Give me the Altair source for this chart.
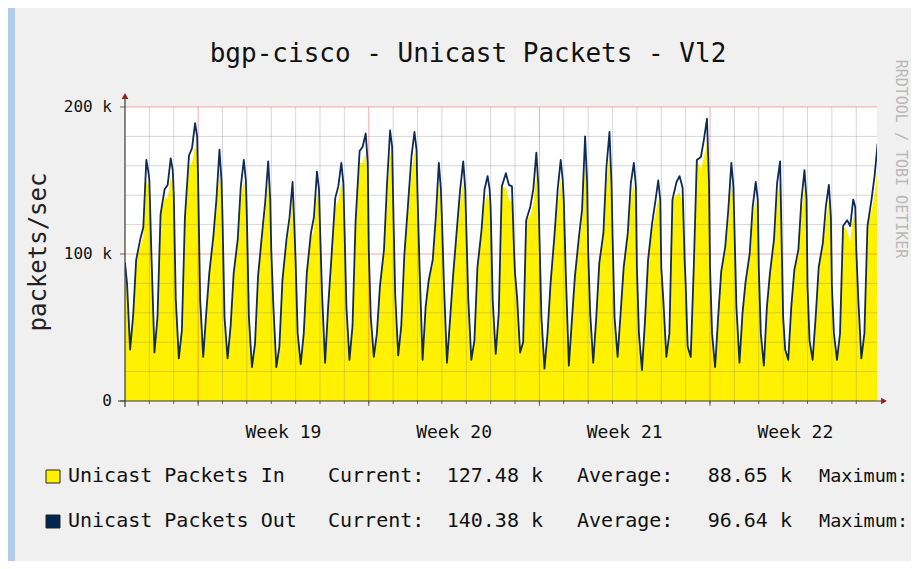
import altair as alt
import pandas as pd

# ---- data (values in k packets/sec) ----
hours = [0, 2, 5, 8, 11, 15, 18, 21, 23]
days = list(range(31))

out_h00 = [94, 150, 141, 150, 125, 125, 103, 95, 119, 121, 103, 137, 141, 125, 119, 132, 87, 114, 137, 103, 114, 91, 91, 80, 91, 119, 91, 57, 78, 78, 103]
out_h02 = [80, 100, 69, 69, 57, 57, 66, 46, 73, 64, 57, 73, 91, 80, 69, 69, 71, 57, 87, 60, 57, 46, 69, 37, 46, 64, 46, 35, 41, 46, 69]
out_h05 = [35, 33, 29, 30, 29, 23, 23, 25, 26, 28, 30, 31, 28, 26, 28, 32, 33, 22, 24, 26, 30, 21, 30, 30, 23, 26, 24, 28, 28, 28, 29]
out_h08 = [58, 57, 48, 60, 51, 39, 37, 46, 64, 51, 46, 51, 64, 55, 41, 60, 40, 46, 55, 57, 60, 55, 46, 91, 57, 60, 64, 64, 57, 46, 46]
out_h11 = [96, 127, 125, 87, 87, 85, 82, 87, 95, 122, 78, 99, 82, 85, 91, 146, 123, 80, 85, 94, 91, 96, 137, 164, 88, 81, 87, 89, 91, 119, 119]
out_h15 = [110, 144, 167, 112, 110, 114, 110, 114, 138, 170, 103, 137, 96, 119, 116, 155, 132, 114, 112, 114, 114, 121, 149, 166, 105, 100, 110, 103, 107, 123, 137]
out_h18 = [118, 147, 172, 137, 146, 135, 125, 125, 146, 173, 148, 166, 125, 144, 144, 147, 144, 144, 130, 159, 148, 135, 153, 178, 130, 132, 148, 137, 132, 119, 153]
out_h21 = [164, 165, 189, 171, 164, 163, 149, 156, 162, 182, 184, 183, 162, 163, 153, 146, 169, 164, 180, 183, 162, 150, 145, 192, 162, 149, 163, 157, 147, 137, 175]
out_h23 = [156, 157, 180, 150, 150, 137, 114, 144, 148, 162, 173, 171, 144, 144, 144, 103, 146, 150, 148, 148, 146, 137, 96, 148, 146, 137, 91, 137, 125, 132, None]

in_h15 = [105, 138, 160, 108, 106, 110, 106, 110, 132, 162, 99, 131, 92, 114, 111, 145, 126, 109, 107, 109, 109, 116, 140, 158, 101, 96, 105, 99, 103, 116, 130]
in_h18 = [112, 138, 162, 128, 136, 126, 117, 116, 136, 162, 137, 154, 116, 134, 134, 137, 134, 134, 121, 147, 137, 126, 142, 166, 121, 123, 137, 127, 123, 108, 140]
in_h21 = [150, 152, 174, 158, 151, 150, 138, 143, 149, 168, 170, 169, 149, 150, 141, 135, 155, 151, 166, 169, 149, 138, 134, 176, 149, 137, 150, 145, 136, 126, 160]
in_h23 = [146, 146, 168, 139, 139, 127, 105, 133, 137, 150, 160, 158, 133, 133, 133, 95, 135, 139, 137, 137, 135, 127, 89, 137, 135, 127, 84, 127, 116, 122, None]

out_slots = [out_h00, out_h02, out_h05, out_h08, out_h11, out_h15, out_h18, out_h21, out_h23]
in_slots = [out_h00, out_h02, out_h05, out_h08, out_h11, in_h15, in_h18, in_h21, in_h23]

day_lines = list(range(1, 31))
week_starts = [3, 10, 17, 24]
week_centers = [6.5, 13.5, 20.5, 27.5]
week_labels = ["Week 19", "Week 20", "Week 21", "Week 22"]
minor_y = [20, 40, 60, 80, 120, 140, 160, 180]
major_y = [100, 200]
ylab_vals = [0, 100, 200]
ylab_text = ["0", "100 k", "200 k"]
x_end = 30.85

title_text = "bgp-cisco - Unicast Packets - Vl2"
legend_rows = [
    ["Unicast Packets In", "Current:", "127.48 k", "Average:", "88.65 k", "Maximum:"],
    ["Unicast Packets Out", "Current:", "140.38 k", "Average:", "96.64 k", "Maximum:"],
]

rows = []
for d in days:
    for h, o, i in zip(hours, out_slots, in_slots):
        if o[d] is None:
            continue
        rows.append({"t": d + h / 24.0, "out": o[d], "inp": i[d]})
df = pd.DataFrame(rows)

W, H = 752, 294
YELLOW = "#FFF100"
NAVY = "#0d2b55"
MONO = "DejaVu Sans Mono"
GRID = "rgba(140,140,140,0.35)"
MGRID = "rgba(225,70,70,0.45)"
AXIS = "#3a3a30"
ARROW = "#9b1c1c"

xs = alt.Scale(domain=[0, x_end], nice=False, zero=False)
ys = alt.Scale(domain=[0, 200], nice=False)
one = pd.DataFrame({"a": [0]})


def rect(x1, x2, y1, y2, color, stroke=None):
    kw = {"color": color}
    if stroke:
        kw.update(stroke=stroke, strokeWidth=1)
    return alt.Chart(one).mark_rect(**kw).encode(
        x=alt.value(x1), x2=alt.value(x2), y=alt.value(y1), y2=alt.value(y2))


def txt(s, x, y, size, align="left", angle=0, color="#111", font=MONO):
    return alt.Chart(one).mark_text(
        text=s, align=align, baseline="middle", fontSize=size, font=font,
        color=color, angle=angle).encode(x=alt.value(x), y=alt.value(y))


layers = []
# left blue strip of the screenshot and white canvas
layers.append(rect(-117, -110, -99, 454, "#b3cbeb"))
layers.append(rect(0, W, 0, H, "#ffffff"))

# data
area = alt.Chart(df).mark_area(color=YELLOW, opacity=1, clip=True).encode(
    x=alt.X("t:Q", scale=xs, axis=None),
    y=alt.Y("inp:Q", scale=ys, axis=None))
layers.append(area)

# grid
vd = pd.DataFrame({"t": [d for d in day_lines if d not in week_starts]})
layers.append(alt.Chart(vd).mark_rule(color=GRID, strokeWidth=1).encode(
    x=alt.X("t:Q", scale=xs), y=alt.value(0), y2=alt.value(H)))
hd = pd.DataFrame({"v": minor_y})
layers.append(alt.Chart(hd).mark_rule(color=GRID, strokeWidth=1).encode(
    y=alt.Y("v:Q", scale=ys), x=alt.value(0), x2=alt.value(W)))
wd = pd.DataFrame({"t": week_starts})
layers.append(alt.Chart(wd).mark_rule(color=MGRID, strokeWidth=1).encode(
    x=alt.X("t:Q", scale=xs), y=alt.value(0), y2=alt.value(H)))
md = pd.DataFrame({"v": major_y})
layers.append(alt.Chart(md).mark_rule(color=MGRID, strokeWidth=1).encode(
    y=alt.Y("v:Q", scale=ys), x=alt.value(0), x2=alt.value(W)))

line = alt.Chart(df).mark_line(color=NAVY, strokeWidth=1.8, clip=True,
                               strokeJoin="round").encode(
    x=alt.X("t:Q", scale=xs), y=alt.Y("out:Q", scale=ys))
layers.append(line)

# ticks
td = pd.DataFrame({"t": day_lines})
layers.append(alt.Chart(td).mark_rule(color="#666", strokeWidth=1).encode(
    x=alt.X("t:Q", scale=xs), y=alt.value(H), y2=alt.value(H + 3)))
layers.append(alt.Chart(wd).mark_rule(color="#666", strokeWidth=1).encode(
    x=alt.X("t:Q", scale=xs), y=alt.value(H), y2=alt.value(H + 5)))
yt = pd.DataFrame({"v": ylab_vals})
layers.append(alt.Chart(yt).mark_rule(color="#666", strokeWidth=1).encode(
    y=alt.Y("v:Q", scale=ys), x=alt.value(-5), x2=alt.value(0)))

# axis lines + arrows
layers.append(alt.Chart(one).mark_rule(color=AXIS, strokeWidth=1.2).encode(
    x=alt.value(-7), x2=alt.value(756), y=alt.value(H)))
layers.append(alt.Chart(one).mark_rule(color=AXIS, strokeWidth=1.2).encode(
    x=alt.value(0), y=alt.value(-8), y2=alt.value(H + 6)))
layers.append(alt.Chart(one).mark_point(shape="triangle-right", filled=True, color=ARROW,
                                        size=45, opacity=1).encode(
    x=alt.value(759), y=alt.value(H)))
layers.append(alt.Chart(one).mark_point(shape="triangle-up", filled=True, color=ARROW,
                                        size=45, opacity=1).encode(
    x=alt.value(0), y=alt.value(-11)))

# y labels
yl = pd.DataFrame({"v": ylab_vals, "lab": ylab_text})
layers.append(alt.Chart(yl).mark_text(align="right", baseline="middle", fontSize=16,
                                      font=MONO, color="#111").encode(
    y=alt.Y("v:Q", scale=ys), x=alt.value(-13), text="lab:N"))

# week labels
wl = pd.DataFrame({"t": week_centers, "lab": week_labels})
layers.append(alt.Chart(wl).mark_text(align="center", baseline="middle", fontSize=18,
                                      font=MONO, color="#111").encode(
    x=alt.X("t:Q", scale=xs), y=alt.value(326), text="lab:N"))

# titles
layers.append(txt(title_text, 343, -53, 26, align="center"))
layers.append(txt("packets/sec", -86, 145, 24, align="center", angle=270, color="#222"))
layers.append(txt("RRDTOOL / TOBI OETIKER", 776, 52, 15, align="center", angle=90,
                  color="#b8b8b8"))

# legend
sq_colors = [YELLOW, "#00254f"]
row_y = [369, 414]
col_x = [-57, 203, 418, 452, 667, 694]
col_size = [20, 20, 20, 20, 20, 18.5]
col_align = ["left", "left", "right", "left", "right", "left"]
for r in range(2):
    layers.append(rect(-79, -65, row_y[r] - 6, row_y[r] + 7, sq_colors[r], stroke="#222"))
    for c in range(6):
        layers.append(txt(legend_rows[r][c], col_x[c], row_y[r], col_size[c],
                          align=col_align[c]))

chart = alt.layer(*layers).properties(
    width=W, height=H,
    padding={"left": 117, "top": 99, "right": 34, "bottom": 160},
    autosize=alt.AutoSizeParams(type="none"),
    background="#f0f0f0",
).configure_view(stroke="transparent")

chart.save("out.html", embed_options={"renderer": "svg", "actions": False})
